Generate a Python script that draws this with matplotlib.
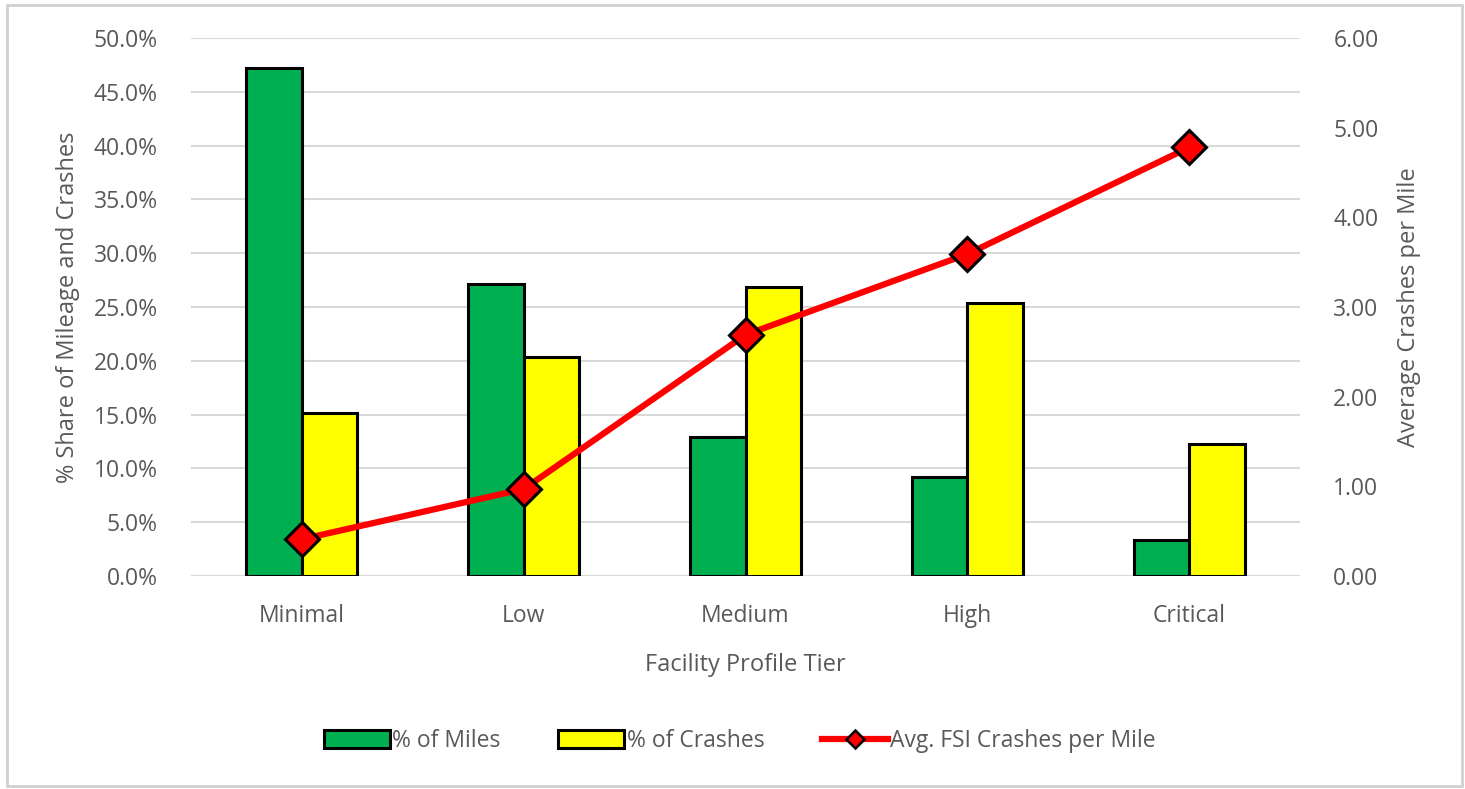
import matplotlib
matplotlib.use("Agg")
import matplotlib.pyplot as plt
from matplotlib.patches import Rectangle
from matplotlib.lines import Line2D
from matplotlib.ticker import FuncFormatter, MultipleLocator
import numpy as np

tiers = ["Minimal", "Low", "Medium", "High", "Critical"]
pct_miles = [47.2, 27.1, 12.9, 9.2, 3.35]
pct_crashes = [15.15, 20.35, 26.9, 25.4, 12.3]
avg_fsi_per_mile = [0.41, 0.97, 2.69, 3.59, 4.78]

GREEN = "#00b050"
YELLOW = "#ffff00"
RED = "#ff0000"
TEXT = "#595959"
GRID = "#d9d9d9"

plt.rcParams["font.family"] = ["Open Sans", "DejaVu Sans"]

fig = plt.figure(figsize=(14.65, 7.89), dpi=100)
fig.patch.set_facecolor("white")

ax = fig.add_axes([0.1304, 0.270, 0.757, 0.6818])
ax2 = ax.twinx()

x = np.arange(len(tiers))
w = 0.25
ax.bar(x - w / 2, pct_miles, width=w, color=GREEN, edgecolor="black", linewidth=2.2, zorder=3)
ax.bar(x + w / 2, pct_crashes, width=w, color=YELLOW, edgecolor="black", linewidth=2.2, zorder=3)

ax.set_ylim(0, 50)
ax.set_xlim(-0.5, len(tiers) - 0.5)
ax.yaxis.set_major_locator(MultipleLocator(5))
ax.yaxis.set_major_formatter(FuncFormatter(lambda v, p: f"{v:.1f}%"))
ax.grid(axis="y", color=GRID, linewidth=1.5, zorder=0)
ax.set_axisbelow(True)
ax.set_xticks(x)
ax.set_xticklabels(tiers)

ax2.plot(x, avg_fsi_per_mile, color=RED, linewidth=4.5, marker="D", markersize=17,
         markerfacecolor=RED, markeredgecolor="black", markeredgewidth=2.2, zorder=5,
         solid_capstyle="round")
ax2.set_ylim(0, 6)
ax2.yaxis.set_major_locator(MultipleLocator(1))
ax2.yaxis.set_major_formatter(FuncFormatter(lambda v, p: f"{v:.2f}"))
ax.set_zorder(1)
ax2.set_zorder(2)
ax2.patch.set_visible(False)

for a in (ax, ax2):
    for s in a.spines.values():
        s.set_visible(False)
    a.tick_params(length=0, labelsize=16.5, labelcolor=TEXT)
ax.tick_params(axis="y", pad=24)
ax2.tick_params(axis="y", pad=24)
ax.tick_params(axis="x", pad=20)

ax.set_ylabel("% Share of Mileage and Crashes", fontsize=17, color=TEXT, labelpad=10)
ax2.set_ylabel("Average Crashes per Mile", fontsize=17, color=TEXT, labelpad=13)
ax.set_xlabel("Facility Profile Tier", fontsize=17, color=TEXT, labelpad=18)

handles = [
    Rectangle((0, 0), 1, 1, facecolor=GREEN, edgecolor="black", linewidth=2.2),
    Rectangle((0, 0), 1, 1, facecolor=YELLOW, edgecolor="black", linewidth=2.2),
    Line2D([], [], color=RED, linewidth=4.5, marker="D", markersize=9,
           markerfacecolor=RED, markeredgecolor="black", markeredgewidth=1.8),
]
labels = ["% of Miles", "% of Crashes", "Avg. FSI Crashes per Mile"]
fig.legend(handles, labels, loc="center", bbox_to_anchor=(0.505, 0.061), ncol=3,
           frameon=False, fontsize=16.5, labelcolor=TEXT, handlelength=2.9,
           handleheight=0.8, handletextpad=0.1, columnspacing=2.5)

fig.add_artist(Rectangle((0.005, 0.004), 0.993, 0.99, transform=fig.transFigure,
                         fill=False, edgecolor="#d0d0d0", linewidth=2))

fig.savefig("out.png", dpi=100, facecolor="white")
